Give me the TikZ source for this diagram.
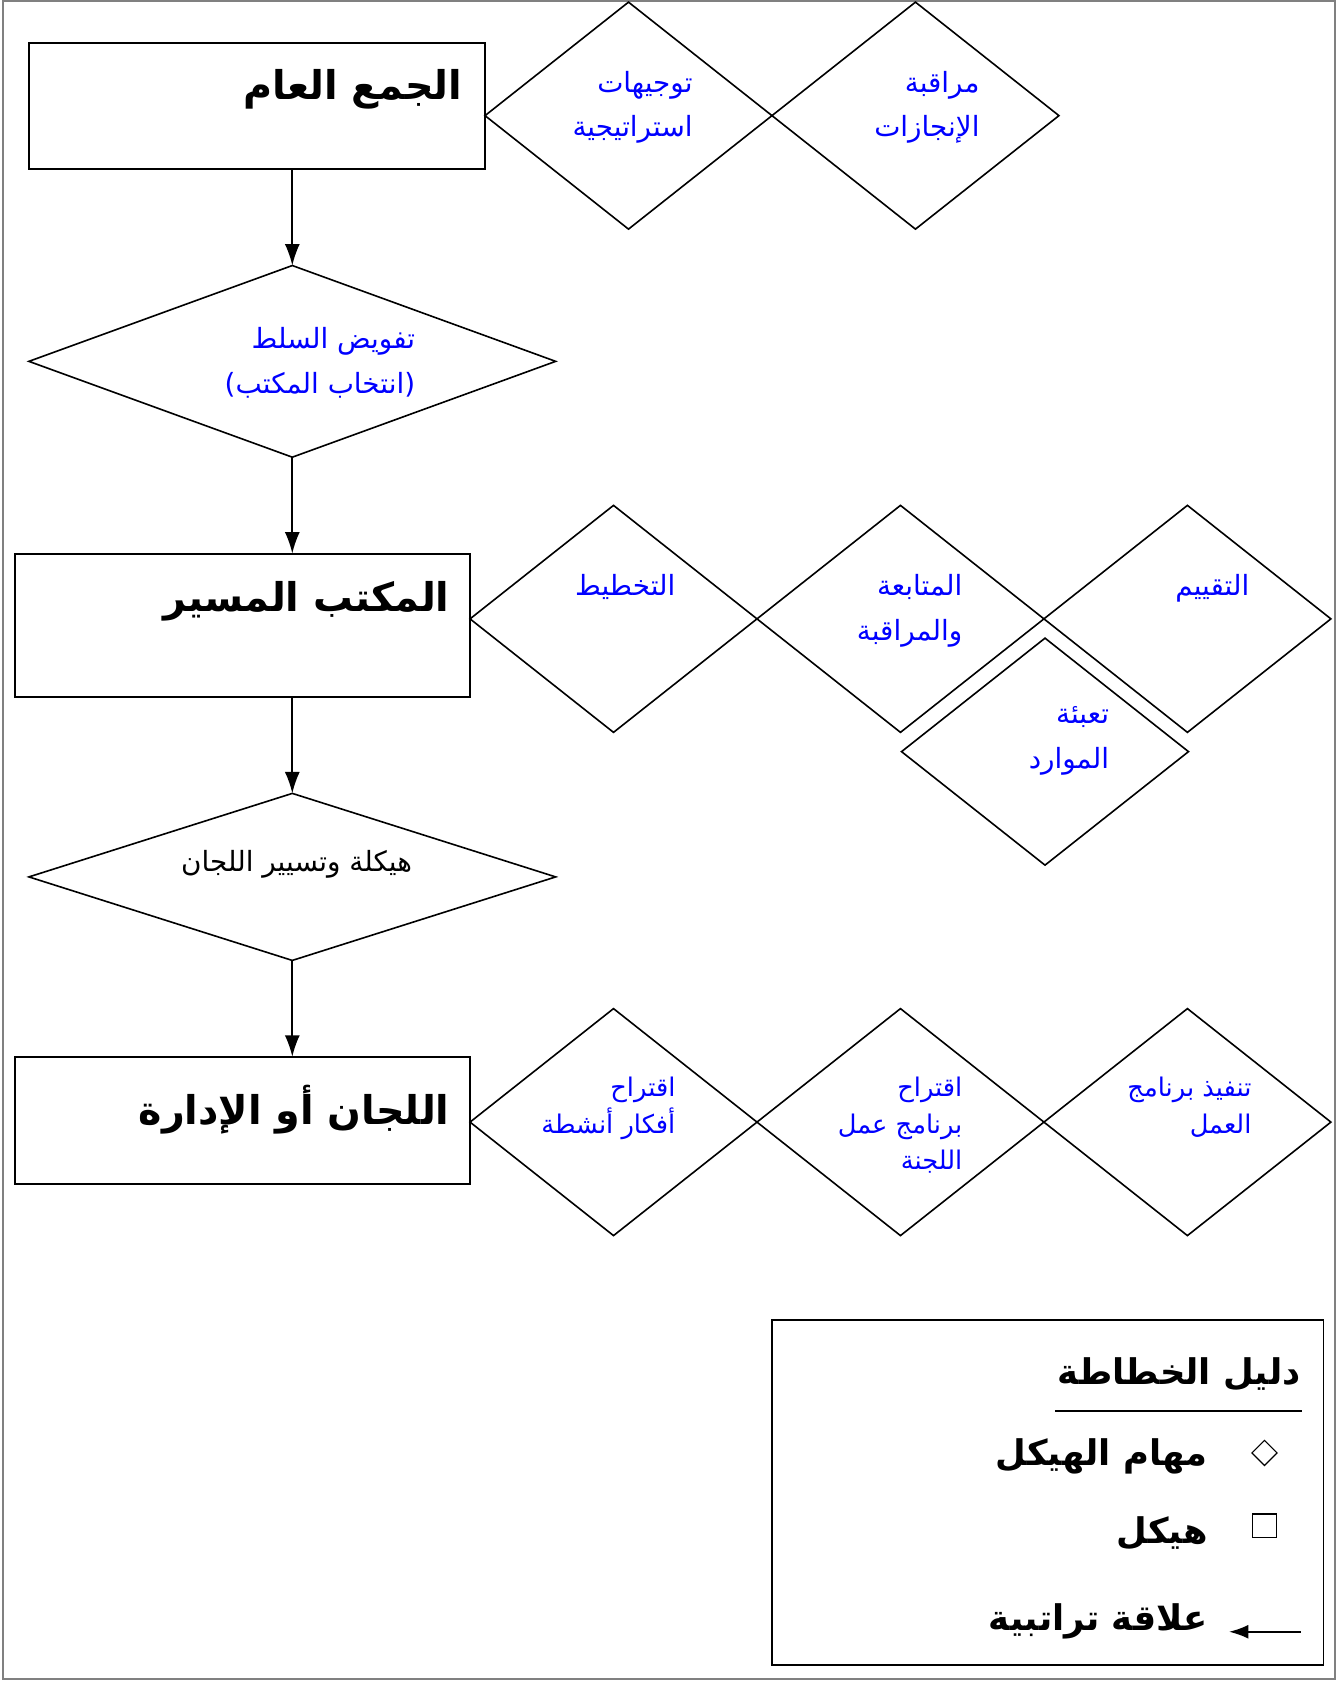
\documentclass[tikz,border=0pt]{standalone}
\usepackage{fontspec}
\newfontfamily\arabicfont[Script=Arabic]{DejaVu Sans}
\TeXXeTstate=1
\usetikzlibrary{shapes.geometric, calc, positioning}
\usetikzlibrary{arrows.meta}
\newcommand{\arb}[1]{\beginR #1\endR}

\begin{document}
\begin{tikzpicture}[
    x=1pt, y=-1pt,
    cadre/.style={draw, line width=1.8pt, minimum width=426pt, minimum height=120pt,
        inner sep=0pt, outer sep=0pt},
    tache/.style={draw, diamond, line width=1.5pt, minimum width=268pt, minimum height=212pt,
        inner sep=0pt, outer sep=0pt},
    texte/.style={text=blue, align=right, inner sep=0pt,
        font=\arabicfont\fontsize{26}{42}\selectfont},
    petit/.style={font=\arabicfont\fontsize{24}{34}\selectfont},
    titre/.style={align=right, inner sep=0pt,
        font=\arabicfont\bfseries\fontsize{37}{44}\selectfont},
    legende/.style={inner sep=0pt, font=\arabicfont\bfseries\fontsize{33}{40}\selectfont},
    fleche/.style={-{Latex[length=20pt, width=14pt]}, line width=1.6pt}
]

% Cadre de la page
\useasboundingbox (0,0) rectangle (1250,1570);
\draw[gray, line width=2pt] (3,1) rectangle (1247,1568);

% Structures (rectangles)
\node[cadre, minimum height=118pt] (ag) at (240,99) {};
\node[titre, anchor=north east] (ag_t) at ($(ag.north east)+(-21,25)$) {\arb{الجمع العام}};

\node[cadre, minimum width=425pt, minimum height=134pt] (bureau) at (226.5,584) {};
\node[titre, anchor=north east] (bureau_t) at ($(bureau.north east)+(-19,26)$) {\arb{المكتب المسير}};

\node[cadre, minimum width=425pt, minimum height=119pt] (comites) at (226.5,1046.5) {};
\node[titre, anchor=north east] (comites_t) at ($(comites.north east)+(-19,26)$) {\arb{اللجان أو الإدارة}};

% Relations entre structures
\node[tache, minimum width=492pt, minimum height=179pt] (deleg) at (273,337.5) {};
\node[texte, anchor=north east] (deleg_t) at ($(deleg.center)+(115,-32)$)
    {\arb{تفويض السلط}\\\arb{(انتخاب المكتب)}};

\node[tache, minimum width=492pt, minimum height=156pt] (gestion) at (273,819) {};
\node[texte, text=black, anchor=north east] (gestion_t) at ($(gestion.center)+(112,-25)$)
    {\arb{هيكلة وتسيير اللجان}};

% Fleches hierarchiques
\draw[fleche] (ag.south -| deleg.north) -- (deleg.north);
\draw[fleche] (deleg.south) -- (deleg.south |- bureau.north);
\draw[fleche] (bureau.south -| gestion.north) -- (gestion.north);
\draw[fleche] (gestion.south) -- (gestion.south |- comites.north);

% Taches de l'assemblee generale
\node[tache] (orient) at (587,108) {};
\node[tache, right=0pt of orient] (suivi) {};
\node[texte, anchor=north east] (orient_t) at ($(orient.center)+(60,-42)$)
    {\arb{توجيهات}\\\arb{استراتيجية}};
\node[texte, anchor=north east] (suivi_t) at ($(suivi.center)+(60,-42)$)
    {\arb{مراقبة}\\\arb{الإنجازات}};

% Taches du bureau
\node[tache] (plan) at (573,578) {};
\node[tache, right=0pt of plan] (controle) {};
\node[tache, right=0pt of controle] (eval) {};
\node[tache] (ressources) at (976,702) {};
\node[texte, anchor=north east] (plan_t) at ($(plan.center)+(58,-42)$) {\arb{التخطيط}};
\node[texte, anchor=north east] (controle_t) at ($(controle.center)+(58,-42)$)
    {\arb{المتابعة}\\\arb{والمراقبة}};
\node[texte, anchor=north east] (eval_t) at ($(eval.center)+(58,-42)$) {\arb{التقييم}};
\node[texte, anchor=north east] (ressources_t) at ($(ressources.center)+(60,-42)$)
    {\arb{تعبئة}\\\arb{الموارد}};

% Taches des commissions
\node[tache] (idees) at (573,1048) {};
\node[tache, right=0pt of idees] (programme) {};
\node[tache, right=0pt of programme] (execution) {};
\node[texte, petit, anchor=north east] (idees_t) at ($(idees.center)+(58,-42)$)
    {\arb{اقتراح}\\\arb{أفكار أنشطة}};
\node[texte, petit, anchor=north east] (programme_t) at ($(programme.center)+(58,-42)$)
    {\arb{اقتراح}\\\arb{برنامج عمل}\\\arb{اللجنة}};
\node[texte, petit, anchor=north east] (execution_t) at ($(execution.center)+(60,-42)$)
    {\arb{تنفيذ برنامج}\\\arb{العمل}};

% Legende
\node[draw, line width=1.5pt, minimum width=515pt, minimum height=322pt, inner sep=0pt,
    outer sep=0pt] (leg) at (978.5,1394) {};
\node[legende, anchor=east] (leg_titre) at (1215,1284) {\arb{دليل الخطاطة}};
\draw[line width=2.2pt] ($(leg_titre.south west)+(-2,18)$) -- ($(leg_titre.south east)+(1,18)$);

\node[draw, diamond, line width=1.1pt, minimum size=24pt, inner sep=0pt] (sym_tache) at (1181,1357) {};
\node[legende, anchor=east] (leg_tache) at (1128,1360) {\arb{مهام الهيكل}};

\node[draw, line width=1.1pt, minimum size=22pt, inner sep=0pt] (sym_cadre) at (1181,1425) {};
\node[legende, anchor=east] (leg_cadre) at (1128,1432) {\arb{هيكل}};

\coordinate (fl_debut) at (1215,1524);
\coordinate (fl_fin) at (1148,1524);
\draw[fleche, -{Latex[length=18pt, width=13pt]}, line width=1.4pt] (fl_debut) -- (fl_fin);
\node[legende, anchor=east] (leg_fleche) at (1128,1514) {\arb{علاقة تراتبية}};

\end{tikzpicture}
\end{document}
